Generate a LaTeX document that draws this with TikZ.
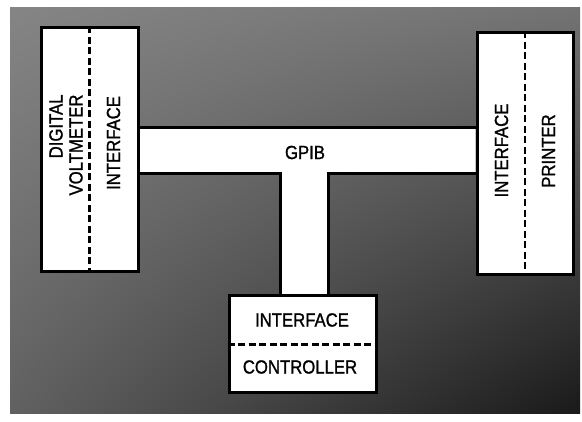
\documentclass[tikz,border=0pt]{standalone}
\usepackage{fontspec}
\setmainfont{Liberation Sans}[FakeStretch=0.88,FakeBold=1.2]
\usetikzlibrary{backgrounds,shadings}
\begin{document}
\begin{tikzpicture}[x=1pt,y=-1pt,
  box/.style={draw=black, line width=3pt, fill=white, inner sep=0pt},
  divider/.style={line width=2.2pt, dash pattern=on 7pt off 3.5pt},
  busline/.style={line width=3pt},
  lbl/.style={font=\fontsize{19}{20}\selectfont, inner sep=0pt},
]
\useasboundingbox (0,0) rectangle (582,422);
% boxes
\node[box, minimum width=97pt, minimum height=244pt] (dvm) at (89.5,150) {};
\node[box, minimum width=96pt, minimum height=242pt] (prn) at (525,154) {};
\node[box, minimum width=147pt, minimum height=97pt] (ctl) at (302.5,344.5) {};
% bus corners
\coordinate (btl) at (dvm.east |- 0,128);
\coordinate (btr) at (prn.west |- 0,128);
\coordinate (bbr) at (prn.west |- 0,174);
\coordinate (bbl) at (dvm.east |- 0,174);
\coordinate (sr) at (328,174);
\coordinate (sl) at (280,174);
\begin{scope}[on background layer]
  \shade[upper left=black!48, upper right=black!55, lower left=black!62, lower right=black!90]
    (10,8) rectangle (580,414);
  \fill[white] (btl) -- (btr) -- (bbr) -- (sr) -- (sr |- ctl.north) -- (sl |- ctl.north) -- (sl) -- (bbl) -- cycle;
\end{scope}
\draw[busline] (btl) -- (btr);
\draw[busline] (bbr) -- (sr) -- (sr |- ctl.north);
\draw[busline] (sl |- ctl.north) -- (sl) -- (bbl);
% dividers
\draw[divider] (dvm.north) -- (dvm.south);
\draw[divider] (prn.north) -- (prn.south);
\draw[divider] (ctl.west) -- (ctl.east);
% labels
\node[lbl, rotate=90, align=right] (dvmt) at (66,145) {DIGITAL\\VOLTMETER};
\node[lbl, rotate=90] (dvmi) at (113.5,143) {INTERFACE};
\node[lbl, rotate=90] (prni) at (501.5,150.5) {INTERFACE};
\node[lbl, rotate=90] (prnp) at (548.5,151) {PRINTER};
\node[lbl] (gpib) at (305,152.5) {GPIB};
\node[lbl] (ctli) at (302,320) {INTERFACE};
\node[lbl] (ctlc) at (300,367) {CONTROLLER};
\end{tikzpicture}
\end{document}
